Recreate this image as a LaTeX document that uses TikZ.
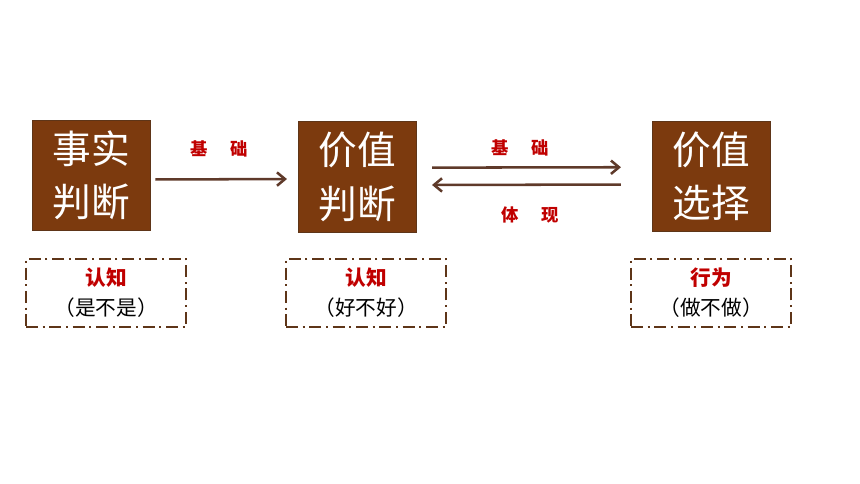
\documentclass[tikz,border=0pt]{standalone}
\usepackage{fontspec}
\usepackage{xcolor}
\usetikzlibrary{arrows.meta}
\newfontfamily\cjk{Noto Sans CJK SC}
\definecolor{boxbrown}{HTML}{7C3A0E}
\definecolor{edgebrown}{HTML}{5E3518}
\definecolor{arrowbrown}{HTML}{5F3A2A}
\definecolor{labelred}{HTML}{C00000}

\begin{document}
\begin{tikzpicture}[x=0.75pt, y=-0.75pt, every node/.style={font=\cjk},
    bigbox/.style={draw=edgebrown, line width=0.8pt, fill=boxbrown, text=white,
      minimum width=89pt, minimum height=83pt, inner sep=0pt, align=center,
      font=\cjk\fontsize{29}{40}\selectfont},
    notebox/.style={draw=edgebrown, line width=1.4pt,
      dash pattern=on 9pt off 3.5pt on 1.5pt off 3.5pt,
      minimum width=120pt, minimum height=51pt, inner sep=0pt, align=center,
      font=\cjk\fontsize{15.5}{22.5}\selectfont},
    link/.style={draw=arrowbrown, line width=1.9pt, -{Straight Barb[length=6pt, width=10pt]}},
    tag/.style={text=labelred, font=\cjk\bfseries\fontsize{13}{14}\selectfont}]
        \useasboundingbox (0,0) rectangle (860,484);
        % Main boxes
        \node[bigbox] (fact) at (91.5,175.5) {事实\\判断};
        \node[bigbox] (value) at (357.5,177) {价值\\判断};
        \node[bigbox] (choice) at (711.5,176.5) {价值\\选择};
        % Notes below
        \node[notebox] (factnote) at (106,293) {\textcolor{labelred}{\textbf{认知}}\\（是不是）};
        \node[notebox] (valuenote) at (366,293) {\textcolor{labelred}{\textbf{认知}}\\（好不好）};
        \node[notebox] (choicenote) at (711,293) {\textcolor{labelred}{\textbf{行为}}\\（做不做）};
        % Arrows
        \draw[link, shorten <=3pt, shorten >=8pt] ([yshift=-3pt]fact.east) -- ([yshift=-1.5pt]value.west)
          node[tag, midway, above=12pt, xshift=-4pt] {基\hspace{1.3em}础};
        \draw[link, shorten <=11pt, shorten >=23pt] ([yshift=7pt]value.east) -- ([yshift=7pt]choice.west)
          node[tag, midway, above=4pt, xshift=-11pt] {基\hspace{1.3em}础};
        \draw[link, shorten <=23pt, shorten >=11pt] ([yshift=-6pt]choice.west) -- ([yshift=-6pt]value.east)
          node[tag, midway, below=12pt, xshift=-3pt] {体\hspace{1.3em}现};
      \end{tikzpicture}
\end{document}
